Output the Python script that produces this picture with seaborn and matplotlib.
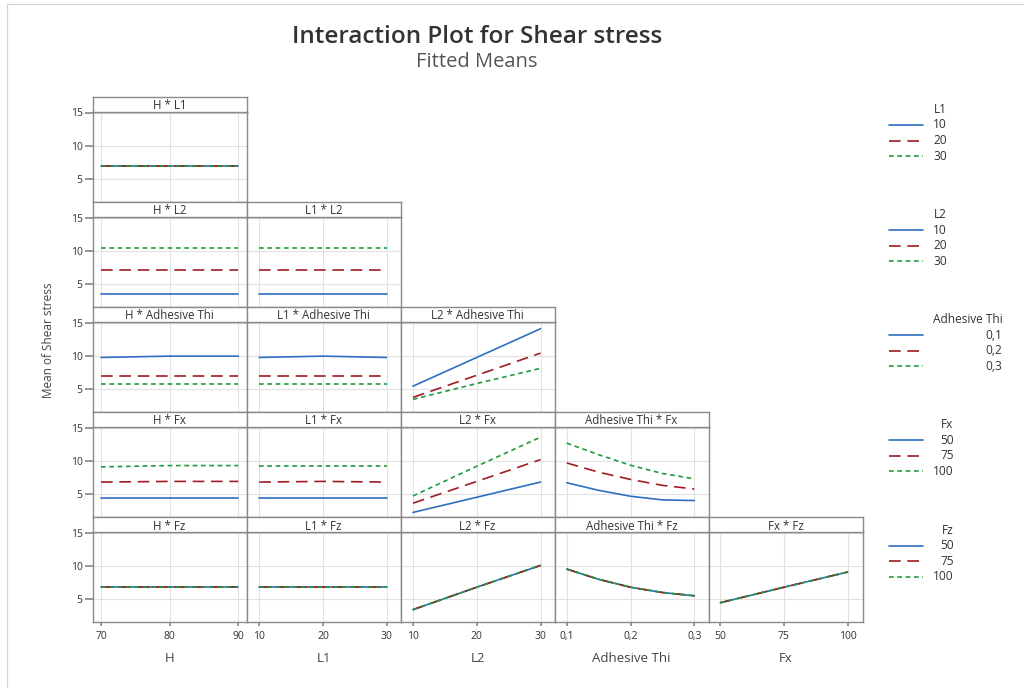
import matplotlib
matplotlib.use("Agg")
import matplotlib.pyplot as plt
import numpy as np
import pandas as pd
import seaborn as sns
from matplotlib.lines import Line2D
from matplotlib.patches import Rectangle

# ---------------- data ----------------
x_factors = ["H", "L1", "L2", "Adhesive Thi", "Fx"]          # columns
trace_factors = ["L1", "L2", "Adhesive Thi", "Fx", "Fz"]     # rows

h_x = [70, 80, 90]
l1_x = [10, 20, 30]
l2_x = [10, 20, 30]
at_x = [0.1, 0.15, 0.2, 0.25, 0.3]
fx_x = [50, 75, 100]

h_ticks = [70, 80, 90]
l1_ticks = [10, 20, 30]
l2_ticks = [10, 20, 30]
at_ticks = [0.1, 0.2, 0.3]
fx_ticks = [50, 75, 100]
h_ticklabels = ["70", "80", "90"]
l1_ticklabels = ["10", "20", "30"]
l2_ticklabels = ["10", "20", "30"]
at_ticklabels = ["0,1", "0,2", "0,3"]
fx_ticklabels = ["50", "75", "100"]

l1_levels = ["10", "20", "30"]
l2_levels = ["10", "20", "30"]
at_levels = ["0,1", "0,2", "0,3"]
fx_levels = ["50", "75", "100"]
fz_levels = ["50", "75", "100"]

# fitted means, one list per trace level
H_L1 = [[6.9, 6.9, 6.9], [6.9, 6.9, 6.9], [6.9, 6.9, 6.9]]
H_L2 = [[3.5, 3.5, 3.5], [7.0, 7.0, 7.0], [10.35, 10.35, 10.35]]
L1_L2 = [[3.5, 3.5, 3.5], [7.0, 7.0, 7.0], [10.35, 10.35, 10.35]]
H_AT = [[9.75, 9.95, 9.95], [7.0, 7.0, 7.0], [5.75, 5.75, 5.75]]
L1_AT = [[9.75, 9.95, 9.75], [7.0, 7.0, 7.0], [5.75, 5.75, 5.75]]
L2_AT = [[5.4, 9.75, 14.1], [3.7, 7.05, 10.4], [3.4, 5.8, 8.1]]
H_FX = [[4.35, 4.35, 4.35], [6.8, 6.9, 6.9], [9.1, 9.3, 9.3]]
L1_FX = [[4.35, 4.35, 4.35], [6.8, 6.9, 6.8], [9.3, 9.3, 9.3]]
L2_FX = [[2.2, 4.5, 6.8], [3.6, 6.9, 10.2], [4.7, 9.2, 13.6]]
AT_FX = [[6.7, 5.55, 4.65, 4.1, 4.0],
         [9.7, 8.3, 7.2, 6.3, 5.75],
         [12.7, 10.95, 9.35, 8.1, 7.3]]
H_FZ = [[6.8, 6.8, 6.8], [6.8, 6.8, 6.8], [6.8, 6.8, 6.8]]
L1_FZ = [[6.8, 6.8, 6.8], [6.8, 6.8, 6.8], [6.8, 6.8, 6.8]]
L2_FZ = [[3.4, 6.8, 10.1], [3.4, 6.8, 10.1], [3.4, 6.8, 10.1]]
AT_FZ = [[9.55, 8.0, 6.8, 6.0, 5.5], [9.55, 8.0, 6.8, 6.0, 5.5], [9.55, 8.0, 6.8, 6.0, 5.5]]
FX_FZ = [[4.45, 6.8, 9.1], [4.45, 6.8, 9.1], [4.45, 6.8, 9.1]]

x_values = {"H": h_x, "L1": l1_x, "L2": l2_x, "Adhesive Thi": at_x, "Fx": fx_x}
x_ticks = {"H": (h_ticks, h_ticklabels), "L1": (l1_ticks, l1_ticklabels),
           "L2": (l2_ticks, l2_ticklabels), "Adhesive Thi": (at_ticks, at_ticklabels),
           "Fx": (fx_ticks, fx_ticklabels)}
trace_levels = {"L1": l1_levels, "L2": l2_levels, "Adhesive Thi": at_levels,
                "Fx": fx_levels, "Fz": fz_levels}
panels = {
    (0, 0): H_L1,
    (1, 0): H_L2, (1, 1): L1_L2,
    (2, 0): H_AT, (2, 1): L1_AT, (2, 2): L2_AT,
    (3, 0): H_FX, (3, 1): L1_FX, (3, 2): L2_FX, (3, 3): AT_FX,
    (4, 0): H_FZ, (4, 1): L1_FZ, (4, 2): L2_FZ, (4, 3): AT_FZ, (4, 4): FX_FZ,
}

# ---------------- style ----------------
sns.set_theme(style="white")
plt.rcParams["font.family"] = ["Open Sans", "DejaVu Sans"]

BLUE, RED, GREEN = "#2f6fc0", "#a01c22", "#1f9a3c"
palette = [BLUE, RED, GREEN]
dash_specs = ["", (7, 4), (2.8, 2.2)]
LW = 1.2
TXT = "#333333"
SPINE = "#8a8a8a"
GRID = "#e2e2e2"

W, H = 1024, 688
fig = plt.figure(figsize=(W / 100, H / 100), dpi=100)
fig.patch.set_facecolor("white")


def fx(px):
    return px / W


def fy(py):
    return 1 - py / H


# faint page frame
fig.add_artist(Rectangle((fx(7), fy(700)), fx(1100), fy(4) - fy(700),
                         transform=fig.transFigure, fill=False,
                         edgecolor="#d6d6d6", lw=0.9))

col_left = [92.5, 246.5, 400.5, 554.5, 708.5]
col_w = 154.0
pads = [(8.5, 8.2), (12.8, 14.0), (12.5, 14.0), (12.2, 14.2), (11.8, 14.8)]
row_pitch = 105.15
strip_top0 = 96.5
strip_h = 15.0
px_per_unit = 6.6
ytop = 15 + 1.0 / px_per_unit
plot_h = row_pitch - strip_h
ybot = ytop - plot_h / px_per_unit

for (r, c), series in panels.items():
    xf = x_factors[c]
    tf = trace_factors[r]
    xs = x_values[xf]
    rows = []
    for lev, ys in zip(trace_levels[tf], series):
        for xv, yv in zip(xs, ys):
            rows.append({"x": xv, "mean": yv, "level": lev})
    df = pd.DataFrame(rows)

    left = col_left[c]
    top = strip_top0 + r * row_pitch
    ax = fig.add_axes([fx(left), fy(top + strip_h + plot_h), fx(col_w), plot_h / H])
    sns.lineplot(data=df, x="x", y="mean", hue="level", style="level",
                 hue_order=trace_levels[tf], style_order=trace_levels[tf],
                 palette=palette, dashes=dash_specs, linewidth=LW,
                 legend=False, sort=False, ax=ax, estimator=None)

    ticks, labels = x_ticks[xf]
    x0, x1 = ticks[0], ticks[-1]
    pl, pr = pads[c]
    span = col_w - pl - pr
    ax.set_xlim(x0 - pl * (x1 - x0) / span, x1 + pr * (x1 - x0) / span)
    ax.set_ylim(ybot, ytop)
    ax.set_xticks(ticks)
    ax.set_yticks([5, 10, 15])
    ax.set_xticklabels(labels)
    ax.set_yticklabels(["5", "10", "15"])
    ax.grid(True, color=GRID, lw=0.8)
    ax.set_axisbelow(True)
    ax.set_xlabel("")
    ax.set_ylabel("")
    for s in ax.spines.values():
        s.set_color(SPINE)
        s.set_linewidth(1.0)
    ax.tick_params(axis="x", bottom=(r == 4), labelbottom=(r == 4),
                   length=3, color=SPINE, labelsize=7.5, labelcolor=TXT, pad=3)
    ax.tick_params(axis="y", left=(c == 0), labelleft=(c == 0),
                   length=6, color=SPINE, labelsize=7.5, labelcolor=TXT, pad=1)
    if r == 4:
        fig.text(fx(left + col_w / 2), fy(659), xf, ha="center", va="center",
                 fontsize=9.5, color="#444444")

    # strip header
    sax = fig.add_axes([fx(left), fy(top + strip_h), fx(col_w), strip_h / H])
    sax.set_xticks([])
    sax.set_yticks([])
    sax.set_facecolor("white")
    for s in sax.spines.values():
        s.set_color(SPINE)
        s.set_linewidth(1.0)
    sax.text(0.5, 0.40, f"{xf} * {tf}", transform=sax.transAxes, ha="center",
             va="center", fontsize=8.3, color=TXT)

# titles
fig.text(fx(477), fy(37), "Interaction Plot for Shear stress", ha="center",
         va="center", fontsize=17.5, fontweight="semibold", color="#333333")
fig.text(fx(477), fy(62), "Fitted Means", ha="center", va="center",
         fontsize=14.5, color="#555555")
fig.text(fx(48), fy(340), "Mean of Shear stress", ha="center", va="center",
         rotation=90, fontsize=8.5, color="#444444")

# legends
renderer = fig.canvas.get_renderer()
LFS = 8.6
for r, tf in enumerate(trace_factors):
    top = strip_top0 + r * row_pitch
    texts = [tf] + trace_levels[tf]
    ys = [top + 13, top + 28.5, top + 44, top + 59.5]
    widths = []
    for t in texts:
        tmp = fig.text(0, 0, t, fontsize=LFS)
        widths.append(tmp.get_window_extent(renderer).width)
        tmp.remove()
    xr = 933 + max(widths)
    for i, (t, yv) in enumerate(zip(texts, ys)):
        fig.text(fx(xr), fy(yv), t, ha="right", va="center", fontsize=LFS, color=TXT)
        if i > 0:
            ln = Line2D([fx(889), fx(923)], [fy(yv), fy(yv)], transform=fig.transFigure,
                        color=palette[i - 1], lw=LW)
            if dash_specs[i - 1]:
                ln.set_dashes(dash_specs[i - 1])
            fig.add_artist(ln)

fig.savefig("out.png", dpi=100, facecolor="white")
